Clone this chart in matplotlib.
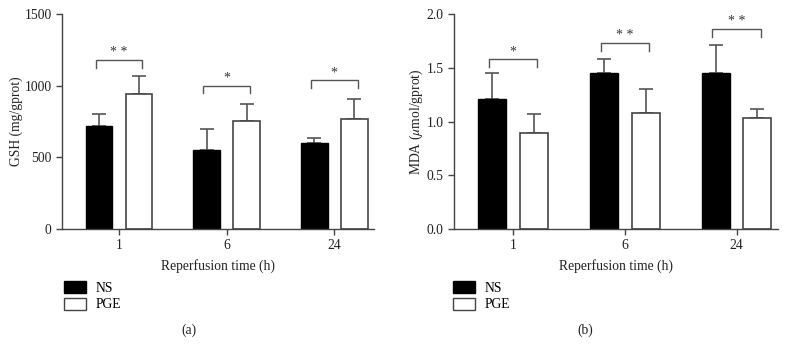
import matplotlib
matplotlib.use("Agg")
import matplotlib.pyplot as plt
import numpy as np
from matplotlib.patches import Patch

plt.rcParams['font.family'] = ['Liberation Serif', 'DejaVu Serif']
plt.rcParams['mathtext.fontset'] = 'stix'

categories = ["1", "6", "24"]
series = ["NS", "PGE"]

gsh_ns = [721, 553, 598]
gsh_ns_err = [79, 142, 37]
gsh_pge = [944, 753, 770]
gsh_pge_err = [121, 119, 135]
gsh_sig = ["* *", "*", "*"]
gsh_bracket_y = [1179, 1000, 1037]
gsh_bracket_leg = [1126, 947, 981]

mda_ns = [1.209, 1.454, 1.454]
mda_ns_err = [0.245, 0.13, 0.26]
mda_pge = [0.890, 1.076, 1.033]
mda_pge_err = [0.183, 0.229, 0.08]
mda_sig = ["*", "* *", "* *"]
mda_bracket_y = [1.578, 1.73, 1.864]
mda_bracket_leg = [1.51, 1.653, 1.789]

W, H = 786, 357
fig = plt.figure(figsize=(W/100, H/100), dpi=100)

axc = '#444444'
fs = 9.8


def panel(rect, ns, ns_err, pge, pge_err, sig, by, bleg, ylim, yticks, yticklabels, ylabel, tag, tagx, legx):
    ax = fig.add_axes(rect)
    x = np.arange(len(categories))
    off = 0.186
    bw = 0.25
    ax.bar(x - off, ns, bw, color='black', edgecolor='black', linewidth=1.0, zorder=2)
    ax.bar(x + off, pge, bw, color='white', edgecolor=axc, linewidth=1.2, zorder=2)
    ax.errorbar(x - off, ns, yerr=[np.zeros(len(ns)), ns_err], fmt='none',
                ecolor='#555555', elinewidth=1.2, capsize=4.8, capthick=1.2, zorder=1)
    ax.errorbar(x + off, pge, yerr=[np.zeros(len(pge)), pge_err], fmt='none',
                ecolor='#555555', elinewidth=1.2, capsize=4.8, capthick=1.2, zorder=1)
    for i in range(len(categories)):
        xl, xr = x[i] - 0.217, x[i] + 0.217
        ax.plot([xl, xl, xr, xr], [bleg[i], by[i], by[i], bleg[i]], color='#555555', lw=1.0,
                solid_joinstyle='miter', zorder=3)
        ax.text(x[i], by[i] + (ylim[1] - ylim[0]) * 0.004, sig[i], ha='center', va='bottom',
                fontsize=10, color='#333333')
    ax.set_xlim(-0.53, 2.37)
    ax.set_ylim(*ylim)
    ax.set_yticks(yticks)
    ax.set_yticklabels(yticklabels)
    ax.set_xticks(x)
    ax.set_xticklabels(categories)
    for s in ['top', 'right']:
        ax.spines[s].set_visible(False)
    for s in ['left', 'bottom']:
        ax.spines[s].set_color(axc)
        ax.spines[s].set_linewidth(1.0)
    ax.tick_params(axis='both', colors=axc, labelcolor='#222222', labelsize=fs,
                   length=4, width=1.0, direction='out')
    ax.set_ylabel(ylabel, fontsize=fs, color='#222222', labelpad=1)
    ax.set_xlabel("Reperfusion time (h)", fontsize=fs, color='#222222', labelpad=5)
    handles = [Patch(facecolor='black', edgecolor='black', label=series[0]),
               Patch(facecolor='white', edgecolor=axc, linewidth=1.0, label=series[1])]
    fig.legend(handles=handles, loc='upper left', bbox_to_anchor=(legx, 1 - 281/H),
               frameon=False, fontsize=fs, handlelength=1.65, handleheight=1.0,
               labelspacing=0.22, handletextpad=0.7, borderpad=0.0, borderaxespad=0)
    fig.text(tagx, 1 - 330/H, tag, ha='center', va='center', fontsize=fs, color='#222222')
    return ax


panel([62/W, 1 - 229/H, (374-62)/W, (229-14)/H], gsh_ns, gsh_ns_err, gsh_pge, gsh_pge_err,
      gsh_sig, gsh_bracket_y, gsh_bracket_leg, (0, 1500), [0, 500, 1000, 1500],
      ["0", "500", "1000", "1500"], "GSH (mg/gprot)", "(a)", 189/W, 64/W)

panel([454/W, 1 - 229/H, (778-454)/W, (229-14)/H], mda_ns, mda_ns_err, mda_pge, mda_pge_err,
      mda_sig, mda_bracket_y, mda_bracket_leg, (0, 2.0), [0, 0.5, 1.0, 1.5, 2.0],
      ["0.0", "0.5", "1.0", "1.5", "2.0"], r"MDA ($\mu$mol/gprot)", "(b)", 585/W, 453/W)

fig.savefig("out.png", dpi=100)
